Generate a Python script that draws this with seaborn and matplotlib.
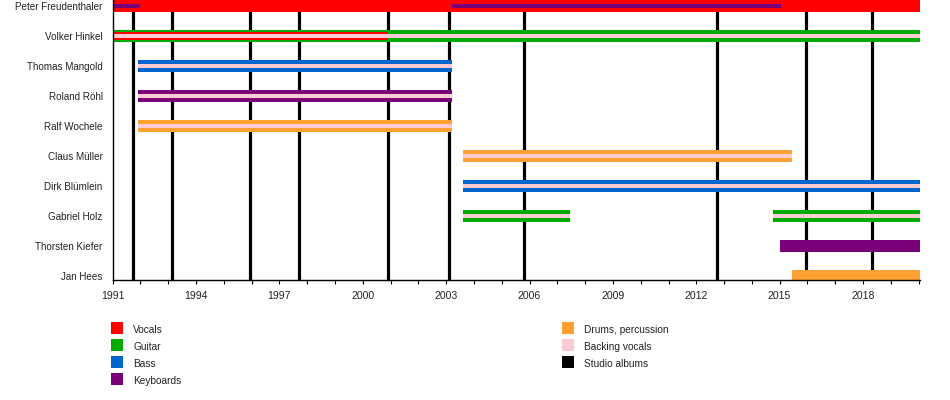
import matplotlib
matplotlib.use("Agg")
import matplotlib.pyplot as plt
from matplotlib.patches import Rectangle
import seaborn as sns

# ---------------- data ----------------
members = ["Peter Freudenthaler", "Volker Hinkel", "Thomas Mangold", "Roland Röhl",
           "Ralf Wochele", "Claus Müller", "Dirk Blümlein", "Gabriel Holz",
           "Thorsten Kiefer", "Jan Hees"]

END = 2020.05

# primary roles (full-width bars)
vocals_main = [("Peter Freudenthaler", 1991.0, END)]
guitar_main = [("Volker Hinkel", 1991.0, END), ("Gabriel Holz", 2003.6, 2007.45),
               ("Gabriel Holz", 2014.75, END)]
bass_main = [("Thomas Mangold", 1991.9, 2003.2), ("Dirk Blümlein", 2003.6, END)]
keys_main = [("Roland Röhl", 1991.9, 2003.2), ("Thorsten Kiefer", 2015.0, END)]
drums_main = [("Ralf Wochele", 1991.9, 2003.2), ("Claus Müller", 2003.6, 2015.46),
              ("Jan Hees", 2015.44, END)]

# secondary roles (medium bars)
vocals_second = [("Volker Hinkel", 1991.0, 2000.92)]

# thin roles
keys_thin = [("Peter Freudenthaler", 1991.0, 1991.98),
             ("Peter Freudenthaler", 2003.2, 2015.04)]
backing_thin = [("Volker Hinkel", 1991.0, END), ("Thomas Mangold", 1991.9, 2003.2),
                ("Roland Röhl", 1991.9, 2003.2), ("Ralf Wochele", 1991.9, 2003.2),
                ("Claus Müller", 2003.6, 2015.46), ("Dirk Blümlein", 2003.6, END),
                ("Gabriel Holz", 2003.6, 2007.45), ("Gabriel Holz", 2014.75, END)]

albums = [1991.73, 1993.13, 1995.94, 1997.70, 2000.91, 2003.10,
          2005.81, 2012.75, 2015.94, 2018.32]

year_ticks = list(range(1991, 2019, 3))
minor_years = list(range(1991, 2021))

legend_left = ["Vocals", "Guitar", "Bass", "Keyboards"]
legend_right = ["Drums, percussion", "Backing vocals", "Studio albums"]

colors = {
    "Vocals": "#FF0000",
    "Guitar": "#00AA00",
    "Bass": "#0066CC",
    "Keyboards": "#780078",
    "Drums, percussion": "#FFA033",
    "Backing vocals": "#FCCAD2",
    "Studio albums": "#000000",
}

# ---------------- style ----------------
sns.set_theme(style="white")
plt.rcParams["font.family"] = ["Liberation Sans", "DejaVu Sans"]
plt.rcParams["font.size"] = 7

fig = plt.figure(figsize=(9.5, 4.0), dpi=100)
ax = fig.add_axes([112.7 / 950, 120 / 400, 807.3 / 950, 280 / 400])

row = {m: i for i, m in enumerate(members)}

# album lines (behind bars)
for yr in albums:
    ax.axvline(yr, color=colors["Studio albums"], lw=2.3, zorder=1)


def draw(spans, color, height, z):
    ys = [row[m] for m, s, e in spans]
    lefts = [s for m, s, e in spans]
    widths = [e - s for m, s, e in spans]
    ax.barh(ys, widths, left=lefts, height=height, color=color,
            edgecolor="none", linewidth=0, zorder=z)


draw(vocals_main, colors["Vocals"], 0.4, 3)
draw(guitar_main, colors["Guitar"], 0.4, 3)
draw(bass_main, colors["Bass"], 0.4, 3)
draw(keys_main, colors["Keyboards"], 0.4, 3)
draw(drums_main, colors["Drums, percussion"], 0.4, 3)
draw(vocals_second, colors["Vocals"], 0.27, 4)
draw(keys_thin, colors["Keyboards"], 0.13, 5)
draw(backing_thin, colors["Backing vocals"], 0.14, 5)

ax.set_xlim(1991, END)
ax.set_ylim(9 + 4 / 30, -6 / 30)

ax.set_yticks(range(len(members)))
ax.set_yticklabels(members, fontsize=7.1, color="#222222")
ax.tick_params(axis="y", length=0, pad=7.2)

ax.set_xticks(year_ticks)
ax.set_xticklabels([str(y) for y in year_ticks], fontsize=7.6, color="#222222")
ax.set_xticks(minor_years, minor=True)
ax.tick_params(axis="x", which="both", direction="out", length=3, width=0.8,
               color="black", pad=5, bottom=True)

sns.despine(ax=ax, top=True, right=True)
for side in ["left", "bottom"]:
    ax.spines[side].set_color("black")
    ax.spines[side].set_linewidth(1.0)
    ax.spines[side].set_zorder(6)
ax.grid(False)
ax.set_facecolor("white")

# legend (manual, figure coordinates)
def legend_column(labels, x_sq, x_txt, y0):
    for k, lab in enumerate(labels):
        yc = y0 + 17 * k
        fig.patches.append(Rectangle((x_sq / 950, 1 - (yc + 6) / 400), 12 / 950, 12 / 400,
                                     transform=fig.transFigure, color=colors[lab],
                                     linewidth=0))
        fig.text(x_txt / 950, 1 - (yc + 2) / 400, lab, fontsize=7.3, va="center",
                 ha="left", color="#222222")


legend_column(legend_left, 111, 133, 328)
legend_column(legend_right, 562, 583.5, 328)

fig.savefig("out.png", dpi=100, facecolor="white")
